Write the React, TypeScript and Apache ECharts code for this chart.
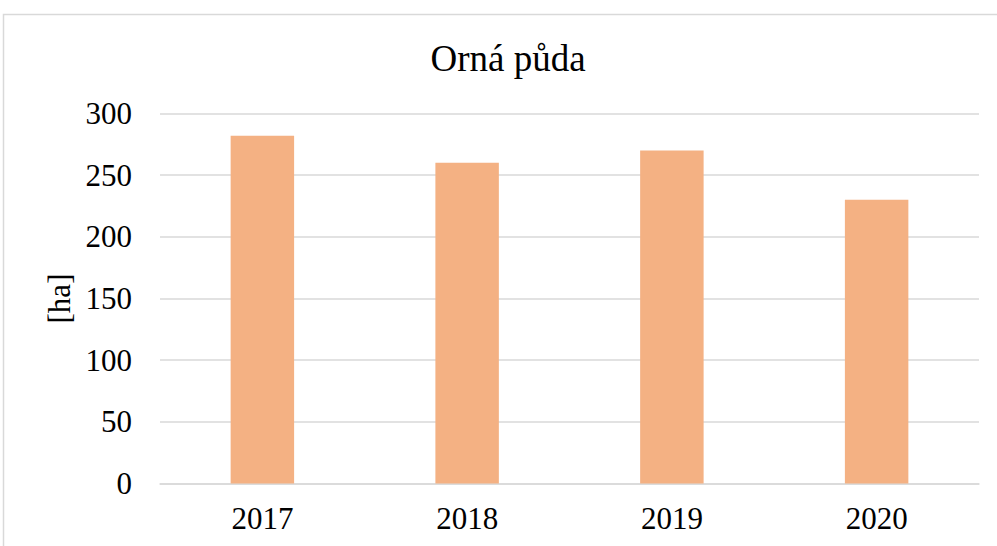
import React, { useEffect, useRef } from "react";
import * as echarts from "echarts";

const categories = ["2017", "2018", "2019", "2020"];
const values = [282, 260, 270, 230];
const yTicks = { min: 0, max: 300, interval: 50 };
const titleText = "Orná půda";
const yAxisName = "[ha]";

const FONT = "'Liberation Serif', 'Times New Roman', serif";

export default function App() {
  const ref = useRef<HTMLDivElement>(null);
  useEffect(() => {
    if (!ref.current) return;
    const chart = echarts.init(ref.current, null, { renderer: "svg" });
    chart.setOption({
      animation: false,
      backgroundColor: "#ffffff",
      title: {
        text: titleText,
        left: 503,
        textAlign: "center",
        top: 35,
        textStyle: { fontFamily: FONT, fontSize: 37, fontWeight: "normal", color: "#000" },
      },
      graphic: [
        {
          type: "rect",
          shape: { x: 3.5, y: 14.5, width: 1100, height: 600 },
          style: { fill: "none", stroke: "#D9D9D9", lineWidth: 1.5 },
          silent: true,
          z: -1,
        },
      ],
      grid: { left: 160, right: 18, top: 113.5, bottom: 62.5, containLabel: false },
      xAxis: {
        type: "category",
        data: categories,
        axisLine: { show: true, lineStyle: { color: "#D9D9D9", width: 1.5 } },
        axisTick: { show: false },
        axisLabel: { fontFamily: FONT, fontSize: 31, color: "#000", margin: 19 },
      },
      yAxis: {
        type: "value",
        min: yTicks.min,
        max: yTicks.max,
        interval: yTicks.interval,
        name: yAxisName,
        nameLocation: "middle",
        nameGap: 84,
        nameRotate: 90,
        nameTextStyle: { fontFamily: FONT, fontSize: 31, color: "#000" },
        axisLine: { show: false },
        axisTick: { show: false },
        splitLine: { lineStyle: { color: "#D9D9D9", width: 1.5 } },
        axisLabel: { fontFamily: FONT, fontSize: 31, color: "#000", margin: 28 },
      },
      series: [
        {
          type: "bar",
          data: values,
          barWidth: "31%",
          itemStyle: { color: "#F4B183" },
        },
      ],
    });
    return () => chart.dispose();
  }, []);
  return (
    <div
      ref={ref}
      style={{ position: "fixed", left: 0, top: 0, width: 997, height: 546 }}
    />
  );
}
